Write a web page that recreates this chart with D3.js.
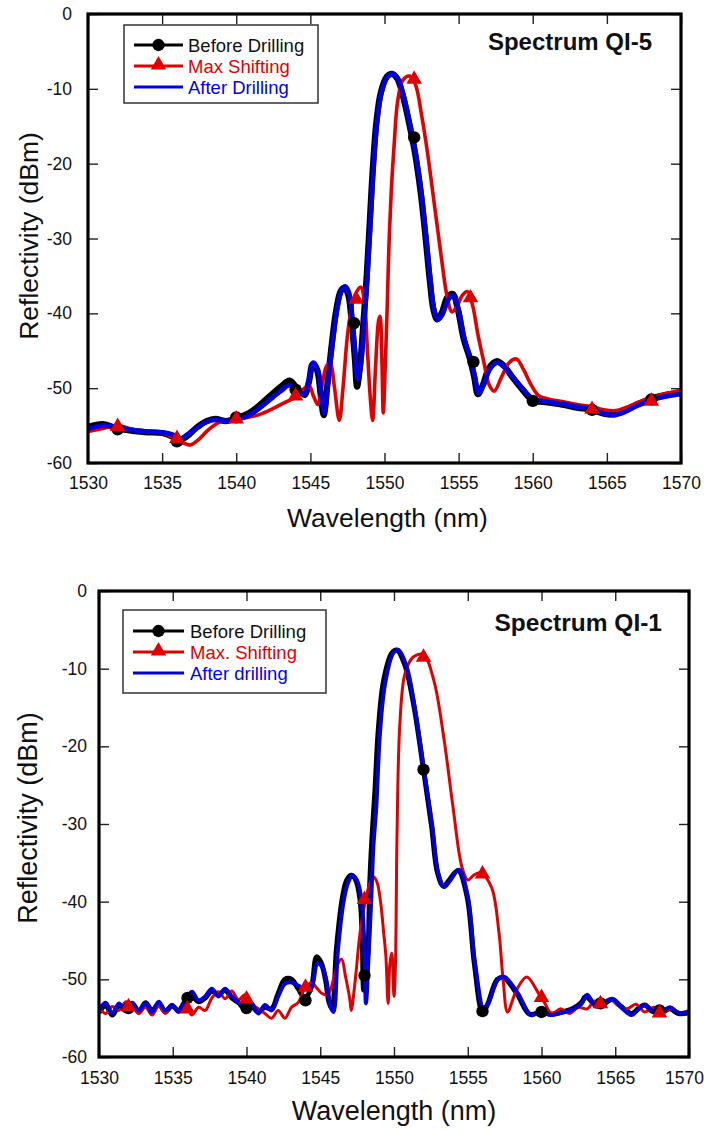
<!DOCTYPE html>
<html><head><meta charset="utf-8">
<script src="https://cdn.jsdelivr.net/npm/d3@7"></script>
<style>body{margin:0;background:#fff} text{font-family:"Liberation Sans",Arial,sans-serif}</style>
</head><body><svg id="c" width="704" height="1129"></svg>
<script>
// ---------- DATA ----------
const xTicks = [1530, 1535, 1540, 1545, 1550, 1555, 1560, 1565, 1570];
const yTicks = [0, -10, -20, -30, -40, -50, -60];

const qi5Names = ["Before Drilling", "Max Shifting", "After Drilling"];
const qi1Names = ["Before Drilling", "Max. Shifting", "After drilling"];

// Spectrum QI-5  [wavelength nm, reflectivity dBm]
const qi5Before = [[1530,-55.2],[1531,-54.8],[1532,-55.4],[1533,-55.7],[1534,-55.9],[1535,-56.0],[1535.7,-56.5],[1536.1,-57.0],[1536.7,-56.4],[1537.3,-55.3],[1538,-54.4],[1538.6,-54.1],[1539.3,-54.4],[1540,-54.0],[1540.7,-53.5],[1541.5,-52.4],[1542.3,-51],[1543,-49.8],[1543.6,-49],[1544.1,-50],[1544.6,-50.9],[1544.9,-49.2],[1545.15,-46.8],[1545.45,-47.6],[1545.7,-51],[1545.9,-53.6],[1546.15,-49.5],[1546.45,-44],[1546.75,-39.5],[1547.05,-37],[1547.3,-36.6],[1547.55,-37.5],[1547.8,-41.5],[1548.0,-46],[1548.15,-49.8],[1548.35,-47],[1548.55,-42],[1548.8,-35],[1549.0,-28],[1549.2,-21],[1549.45,-14.5],[1549.75,-10.5],[1550.15,-8.4],[1550.5,-8.0],[1550.85,-8.6],[1551.25,-11],[1551.65,-14.5],[1552.05,-18.5],[1552.45,-24],[1552.75,-29.5],[1553.05,-35.5],[1553.3,-39.5],[1553.55,-40.8],[1553.85,-40],[1554.25,-37.8],[1554.6,-37.4],[1554.95,-39.5],[1555.35,-43.5],[1555.75,-46],[1556.05,-48.5],[1556.3,-50.8],[1556.65,-49.5],[1557.05,-47.3],[1557.55,-46.4],[1558.05,-47],[1558.65,-48.6],[1559.3,-50.2],[1560,-51.6],[1561,-51.9],[1562,-52.2],[1563,-52.6],[1564,-52.9],[1564.8,-53.4],[1565.5,-53.5],[1566.2,-53.0],[1567,-52.2],[1568,-51.4],[1569,-50.9],[1570,-50.6]];
const qi5Max = [[1530,-55.8],[1531,-55.4],[1532,-55.0],[1533,-55.5],[1534,-55.8],[1535,-56.0],[1535.8,-56.6],[1536.4,-57.3],[1536.9,-57.6],[1537.5,-56.8],[1538.1,-55.6],[1538.8,-54.6],[1539.5,-54.3],[1540,-54.1],[1540.8,-53.9],[1541.6,-53.5],[1542.4,-52.8],[1543.2,-52],[1544,-51.2],[1544.5,-50.2],[1544.9,-49.6],[1545.2,-51],[1545.5,-52.2],[1545.8,-49.5],[1546.1,-47],[1546.35,-46.7],[1546.6,-49.5],[1546.95,-54.3],[1547.2,-50],[1547.5,-43],[1547.8,-39],[1548.1,-37.2],[1548.4,-36.5],[1548.65,-38.5],[1548.85,-45],[1549.05,-51.5],[1549.2,-54.3],[1549.4,-47],[1549.6,-41],[1549.7,-40.4],[1549.82,-46],[1549.92,-53.3],[1550.05,-47],[1550.2,-38],[1550.3,-31],[1550.45,-24],[1550.65,-17.5],[1550.9,-11.5],[1551.25,-8.8],[1551.7,-8.3],[1552.1,-9.5],[1552.5,-13.5],[1552.9,-18.5],[1553.3,-24.5],[1553.6,-29],[1553.9,-33.5],[1554.2,-37.5],[1554.55,-39.8],[1554.9,-39],[1555.25,-37.6],[1555.6,-37.1],[1555.95,-39],[1556.3,-42.8],[1556.7,-46.5],[1557.05,-49.5],[1557.4,-50.4],[1557.9,-48.5],[1558.4,-46.6],[1558.9,-46.1],[1559.4,-47.6],[1559.9,-49.6],[1560.4,-51],[1561.2,-51.5],[1562,-51.8],[1563,-52.2],[1564,-52.5],[1564.8,-52.9],[1565.6,-53.0],[1566.4,-52.5],[1567.2,-51.8],[1568,-51.3],[1569,-50.7],[1570,-50.3]];
const qi5After = [[1530,-55.4],[1531,-55.0],[1532,-55.2],[1533,-55.6],[1534,-55.8],[1535,-55.9],[1535.7,-56.2],[1536.2,-56.8],[1536.7,-56.2],[1537.3,-55.4],[1538,-54.5],[1538.6,-54.2],[1539.3,-54.4],[1540,-54.2],[1540.7,-53.8],[1541.5,-52.8],[1542.3,-51.5],[1543,-50.4],[1543.6,-49.6],[1544.1,-50.2],[1544.6,-50.8],[1544.9,-49],[1545.2,-46.6],[1545.5,-47.5],[1545.75,-51],[1545.95,-53.3],[1546.2,-49],[1546.5,-44],[1546.8,-39.5],[1547.1,-37],[1547.35,-36.4],[1547.6,-37.2],[1547.85,-41],[1548.05,-46],[1548.2,-48.8],[1548.4,-47],[1548.6,-42],[1548.85,-35],[1549.05,-28],[1549.25,-21],[1549.5,-14.5],[1549.8,-10.5],[1550.2,-8.4],[1550.55,-8.0],[1550.9,-8.6],[1551.3,-11],[1551.7,-14.5],[1552.1,-18.5],[1552.5,-24],[1552.8,-29.5],[1553.1,-35.5],[1553.35,-39.5],[1553.6,-40.8],[1553.9,-40.2],[1554.3,-38.2],[1554.65,-37.6],[1555,-39.5],[1555.4,-43.5],[1555.8,-46],[1556.1,-48.5],[1556.35,-50.6],[1556.7,-49.5],[1557.1,-47.5],[1557.6,-46.6],[1558.1,-47.2],[1558.7,-48.6],[1559.3,-50],[1560,-51.4],[1561,-51.8],[1562,-52.1],[1563,-52.5],[1564,-52.8],[1564.8,-53.4],[1565.5,-53.6],[1566.2,-53.2],[1567,-52.4],[1568,-51.6],[1569,-51.1],[1570,-50.8]];
const qi5BeforeMarks = [[1532,-55.5],[1536,-57.1],[1540,-53.9],[1544,-50.2],[1547.95,-41.3],[1552,-16.5],[1556,-46.5],[1560,-51.7],[1564,-52.9],[1568,-51.5]];
const qi5MaxMarks = [[1532,-55.0],[1536,-56.6],[1540,-54.0],[1544,-50.9],[1548.1,-38.0],[1552,-8.6],[1555.8,-37.8],[1564,-52.7],[1568,-51.6]];

// Spectrum QI-1
const qi1Before = [[1530,-54.3],[1530.45,-53.4],[1530.9,-54.6],[1531.35,-53.4],[1531.8,-54.0],[1532.25,-53.2],[1532.7,-54.2],[1533.15,-53.0],[1533.6,-54.0],[1534.05,-53.2],[1534.5,-54.2],[1534.95,-53.4],[1535.4,-54.0],[1535.85,-52.8],[1536.3,-52.2],[1536.75,-52.9],[1537.2,-52.4],[1537.65,-51.5],[1538.1,-52.0],[1538.55,-51.4],[1539.0,-52.4],[1539.45,-53.0],[1539.9,-53.8],[1540.35,-53.5],[1540.8,-54.2],[1541.25,-53.6],[1541.7,-53.8],[1542.15,-51.8],[1542.6,-50.0],[1543.05,-50.0],[1543.5,-51.2],[1543.95,-52.4],[1544.4,-51.0],[1544.75,-47.1],[1545.05,-47.8],[1545.35,-50],[1545.6,-53],[1545.8,-53.8],[1546.1,-46],[1546.5,-39.5],[1546.8,-37.2],[1547.1,-36.6],[1547.4,-37.2],[1547.7,-39.8],[1547.85,-45],[1547.95,-51.4],[1548.1,-49.5],[1548.25,-46],[1548.35,-38],[1548.5,-32],[1548.7,-26],[1548.95,-17.5],[1549.3,-11.5],[1549.85,-8.0],[1550.2,-7.6],[1550.75,-9.6],[1551.35,-14.8],[1552.0,-23.0],[1552.55,-30.3],[1552.95,-36.3],[1553.35,-38.0],[1553.75,-37.2],[1554.35,-36.0],[1554.95,-39.3],[1555.45,-48],[1556.0,-54.2],[1556.35,-53.2],[1557.0,-50],[1557.45,-49.8],[1558.35,-51.9],[1559.2,-54.5],[1560,-54.2],[1560.6,-54.5],[1561.2,-54.3],[1562.1,-53.8],[1562.7,-53.0],[1563.0,-52.2],[1563.7,-53.4],[1564.2,-53.2],[1564.8,-52.6],[1565.4,-53.5],[1566.1,-54.4],[1566.6,-53.7],[1567.0,-53.3],[1567.5,-54.1],[1568.1,-54.3],[1568.7,-53.8],[1569.3,-54.4],[1570,-54.3]];
const qi1Max = [[1530,-53.5],[1530.45,-54.4],[1530.9,-53.5],[1531.35,-54.0],[1531.8,-52.9],[1532.25,-53.4],[1532.7,-54.4],[1533.15,-53.6],[1533.6,-54.6],[1534.05,-53.4],[1534.5,-54.4],[1534.95,-53.2],[1535.4,-54.0],[1535.85,-53.4],[1536.3,-54.6],[1536.75,-53.6],[1537.2,-54.0],[1537.65,-52.4],[1538.1,-51.6],[1538.55,-52.5],[1539.0,-51.5],[1539.45,-52.6],[1539.9,-52.0],[1540.35,-53.2],[1540.8,-53.8],[1541.25,-54.4],[1541.7,-55.0],[1542.15,-54.0],[1542.6,-55.0],[1543.05,-53.6],[1543.5,-53.0],[1543.95,-51.2],[1544.4,-50.4],[1544.8,-51.2],[1545.1,-51.8],[1545.5,-52],[1545.9,-50],[1546.2,-48],[1546.45,-47.4],[1546.7,-49.5],[1547.0,-52.5],[1547.1,-54.0],[1547.35,-50.5],[1547.7,-44],[1548.0,-40.5],[1548.3,-38],[1548.6,-36.8],[1548.85,-37.5],[1549.1,-40.2],[1549.3,-44],[1549.45,-47],[1549.6,-53.1],[1549.72,-48],[1549.85,-46.6],[1550.0,-52.2],[1550.1,-48],[1550.2,-32],[1550.4,-17],[1550.75,-10.6],[1551.3,-8.5],[1552.0,-8.2],[1552.7,-11.5],[1553.4,-19.2],[1554.0,-27.8],[1554.6,-35.5],[1555.0,-37.2],[1555.4,-36.6],[1555.85,-36.3],[1556.6,-38.1],[1557.1,-43.7],[1557.4,-50.1],[1557.7,-54.2],[1558.3,-51.4],[1559.0,-49.7],[1559.8,-51.8],[1560.2,-53],[1560.7,-54.4],[1561.3,-53.8],[1561.9,-54.4],[1562.5,-53.6],[1563.1,-53.8],[1563.6,-52.8],[1564.1,-53.2],[1564.7,-52.6],[1565.2,-53.4],[1565.8,-53.8],[1566.4,-53.2],[1567.0,-54.2],[1567.6,-53.6],[1568.2,-54.2],[1568.8,-53.8],[1569.4,-54.3],[1570,-54.0]];
const qi1After = [[1530,-54.0],[1530.45,-53.0],[1530.9,-54.4],[1531.35,-53.1],[1531.8,-54.1],[1532.25,-53.0],[1532.7,-54.0],[1533.15,-53.1],[1533.6,-54.2],[1534.05,-52.9],[1534.5,-54.0],[1534.95,-53.3],[1535.4,-54.2],[1535.85,-52.9],[1536.3,-51.6],[1536.75,-52.7],[1537.2,-52.2],[1537.65,-51.2],[1538.1,-52.2],[1538.55,-51.2],[1539.0,-52.2],[1539.45,-52.9],[1539.9,-53.5],[1540.35,-53.1],[1540.8,-54.4],[1541.25,-53.3],[1541.7,-54.0],[1542.15,-52.2],[1542.6,-50.6],[1543.05,-50.4],[1543.5,-50.8],[1543.95,-51.2],[1544.4,-51.0],[1544.8,-48.0],[1545.1,-48.3],[1545.4,-50],[1545.7,-53.5],[1545.9,-54.2],[1546.2,-46.2],[1546.6,-39.8],[1546.9,-37.5],[1547.2,-36.6],[1547.5,-37.3],[1547.8,-39.8],[1548.0,-46.2],[1548.1,-53.1],[1548.3,-46],[1548.45,-40],[1548.6,-33],[1548.8,-27.8],[1549.05,-18.3],[1549.4,-11.9],[1549.95,-8.0],[1550.3,-7.6],[1550.85,-9.7],[1551.4,-14.9],[1552.0,-22.6],[1552.6,-30.3],[1553.0,-36.3],[1553.4,-38.1],[1553.8,-37.3],[1554.4,-35.9],[1555.0,-39.3],[1555.5,-48],[1556.1,-54],[1556.4,-53.1],[1557.1,-49.9],[1557.5,-49.7],[1558.4,-51.8],[1559.3,-54.6],[1560,-54.1],[1560.6,-54.6],[1561.2,-54.4],[1562.1,-53.9],[1562.7,-53.2],[1563.1,-52.0],[1563.7,-53.5],[1564.2,-53.0],[1564.8,-52.5],[1565.4,-53.6],[1566.1,-54.6],[1566.6,-53.8],[1567.0,-53.3],[1567.5,-54.0],[1568.1,-54.2],[1568.7,-53.6],[1569.3,-54.3],[1570,-54.2]];
const qi1BeforeMarks = [[1532,-53.7],[1536,-52.4],[1540,-53.7],[1544,-52.7],[1548,-49.5],[1552,-23.0],[1556,-54.1],[1560,-54.2],[1564,-53.1],[1568,-54.0]];
const qi1MaxMarks = [[1532,-53.4],[1536,-53.7],[1540,-52.4],[1544,-50.9],[1548,-39.6],[1552,-8.4],[1556,-36.3],[1560,-52.2],[1564,-53.0],[1568,-54.2]];

// ---------- DRAW ----------
const BLACK = "#000", RED = "#e00000", BLUE = "#0000dc";
const FONT = '"Liberation Sans",Arial,sans-serif';
const svg = d3.select("#c");
const fmt = d => String(d);   // plain hyphen-minus like the reference

function drawPanel(o) {
  const g = svg.append("g");
  const x = d3.scaleLinear().domain([1530, 1570]).range([o.l, o.r]);
  const y = d3.scaleLinear().domain([-60, 0]).range([o.b, o.t]);
  const id = "clip" + o.key;
  svg.append("defs").append("clipPath").attr("id", id)
    .append("rect").attr("x", o.l).attr("y", o.t).attr("width", o.r - o.l).attr("height", o.b - o.t);

  const line = d3.line().x(d => x(d[0])).y(d => y(d[1])).curve(d3.curveCatmullRom.alpha(0.5));
  const lines = g.append("g").attr("clip-path", `url(#${id})`);
  lines.append("path").datum(o.before).attr("d", line).attr("fill", "none").attr("stroke", BLACK).attr("stroke-width", o.wBlack).attr("stroke-linejoin", "round");
  lines.append("path").datum(o.max).attr("d", line).attr("fill", "none").attr("stroke", RED).attr("stroke-width", o.wRed).attr("stroke-linejoin", "round");
  lines.append("path").datum(o.after).attr("d", line).attr("fill", "none").attr("stroke", BLUE).attr("stroke-width", o.wBlue).attr("stroke-linejoin", "round");

  const circ = d3.symbol().type(d3.symbolCircle).size(120);
  const tri = d3.symbol().type(d3.symbolTriangle).size(105);
  lines.selectAll(".bm").data(o.beforeMarks).join("path").attr("d", circ)
    .attr("transform", d => `translate(${x(d[0])},${y(d[1])})`).attr("fill", BLACK);
  lines.selectAll(".mm").data(o.maxMarks).join("path").attr("d", tri)
    .attr("transform", d => `translate(${x(d[0])},${y(d[1]) + 1})`).attr("fill", RED);

  // axes
  const ax = g.append("g");
  const xb = ax.append("g").attr("transform", `translate(0,${o.b})`)
    .call(d3.axisBottom(x).tickValues(xTicks).tickSize(-10).tickPadding(o.xPad).tickFormat(fmt));
  const xt = ax.append("g").attr("transform", `translate(0,${o.t})`)
    .call(d3.axisTop(x).tickValues(xTicks).tickSize(-10).tickFormat(""));
  const yl = ax.append("g").attr("transform", `translate(${o.l},0)`)
    .call(d3.axisLeft(y).tickValues(yTicks).tickSize(-10).tickPadding(o.yPad).tickFormat(fmt));
  const yr = ax.append("g").attr("transform", `translate(${o.r},0)`)
    .call(d3.axisRight(y).tickValues(yTicks).tickSize(-10).tickFormat(""));
  [xb, xt, yl, yr].forEach(a => {
    a.attr("font-size", null).attr("font-family", null);
    a.select(".domain").remove();
    a.selectAll(".tick line").attr("stroke", "#222").attr("stroke-width", 1.4);
    a.selectAll("text").attr("fill", "#111").style("font-family", FONT).style("font-size", o.tickFont + "px");
  });
  // keep the last x label inside the page
  xb.selectAll(".tick text").filter(d => d === 1570).attr("dx", o.lastDx);

  g.append("rect").attr("x", o.l).attr("y", o.t).attr("width", o.r - o.l).attr("height", o.b - o.t)
    .attr("fill", "none").attr("stroke", "#000").attr("stroke-width", 3.2);

  // axis titles
  g.append("text").attr("x", (o.l + o.r) / 2 + o.xTitleDx).attr("y", o.xTitleY).attr("text-anchor", "middle")
    .style("font-size", o.titleFont + "px").attr("fill", "#111").text("Wavelength (nm)");
  g.append("text").attr("transform", `translate(${o.yTitleX},${o.yTitleY}) rotate(-90)`).attr("text-anchor", "middle")
    .style("font-size", o.titleFont + "px").attr("fill", "#111").text("Reflectivity (dBm)");

  // chart title
  g.append("text").attr("x", o.titleX).attr("y", o.titleY).attr("text-anchor", "end")
    .style("font-size", o.headFont + "px").attr("font-weight", "bold").attr("fill", "#111").text(o.title);

  // legend
  const lg = g.append("g");
  lg.append("rect").attr("x", o.lg.x0).attr("y", o.lg.y0).attr("width", o.lg.x1 - o.lg.x0).attr("height", o.lg.y1 - o.lg.y0)
    .attr("fill", "#fff").attr("stroke", "#333").attr("stroke-width", 1.5);
  const cols = [BLACK, RED, BLUE];
  const txtCols = ["#111", "#e00000", "#0000ee"];
  o.names.forEach((nm, i) => {
    const yy = o.lg.rows[i];
    lg.append("line").attr("x1", o.lg.lx0).attr("x2", o.lg.lx1).attr("y1", yy).attr("y2", yy)
      .attr("stroke", cols[i]).attr("stroke-width", 3);
    const cx = (o.lg.lx0 + o.lg.lx1) / 2;
    if (i === 0) lg.append("path").attr("d", circ).attr("transform", `translate(${cx},${yy})`).attr("fill", BLACK);
    if (i === 1) lg.append("path").attr("d", tri).attr("transform", `translate(${cx},${yy - 1})`).attr("fill", RED);
    lg.append("text").attr("x", o.lg.tx).attr("y", yy).attr("dy", "0.36em").style("font-size", o.lgFont + "px")
      .attr("fill", txtCols[i]).text(nm);
  });
}

drawPanel({
  key: "a", l: 88, r: 681, t: 14, b: 463,
  before: qi5Before, max: qi5Max, after: qi5After, beforeMarks: qi5BeforeMarks, maxMarks: qi5MaxMarks,
  wBlack: 6.2, wRed: 3.6, wBlue: 4.8,
  tickFont: 17.5, xPad: 14, yPad: 16, lastDx: 0, titleFont: 26.5, xTitleDx: 3, xTitleY: 527, yTitleX: 38, yTitleY: 236,
  title: "Spectrum QI-5", titleX: 652, titleY: 50, headFont: 24,
  names: qi5Names, lgFont: 18.5,
  lg: { x0: 124, x1: 318, y0: 25, y1: 103, rows: [45, 66, 87], lx0: 134, lx1: 183, tx: 188 }
});
drawPanel({
  key: "b", l: 99, r: 689, t: 591, b: 1057,
  before: qi1Before, max: qi1Max, after: qi1After, beforeMarks: qi1BeforeMarks, maxMarks: qi1MaxMarks,
  wBlack: 5, wRed: 3, wBlue: 4,
  tickFont: 17.5, xPad: 15, yPad: 12, lastDx: -5, titleFont: 27, xTitleDx: 0, xTitleY: 1120, yTitleX: 37, yTitleY: 818,
  title: "Spectrum QI-1", titleX: 662, titleY: 631, headFont: 24.5,
  names: qi1Names, lgFont: 18.5,
  lg: { x0: 123, x1: 326, y0: 610, y1: 693, rows: [631, 652, 673], lx0: 133, lx1: 184, tx: 190 }
});
</script></body></html>
